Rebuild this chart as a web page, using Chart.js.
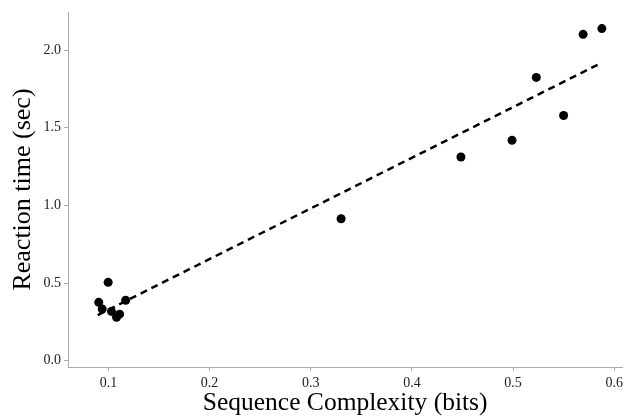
<!DOCTYPE html>
<html>
<head>
<meta charset="utf-8">
<script src="https://cdn.jsdelivr.net/npm/chart.js@4.4.1/dist/chart.umd.min.js"></script>
<style>
html,body{margin:0;padding:0;background:#fff;}
#wrap{width:627px;height:419px;position:relative;}
</style>
</head>
<body>
<div id="wrap"><canvas id="c" width="627" height="419"></canvas></div>
<script>
const complexity = [0.0904, 0.0938, 0.0997, 0.103, 0.108, 0.111, 0.117, 0.330, 0.4485, 0.499, 0.523, 0.550, 0.5693, 0.5878];
const reactionTime = [0.376, 0.333, 0.505, 0.318, 0.280, 0.300, 0.390, 0.914, 1.312, 1.419, 1.824, 1.579, 2.101, 2.138];
const fitX = [0.0894, 0.585];
const fitY = [0.294, 1.910];
const xTicks = [0.1, 0.2, 0.3, 0.4, 0.5, 0.6];
const yTicks = [0.0, 0.5, 1.0, 1.5, 2.0];

const axisColor = '#aaaaaa';
const font = 'Liberation Serif';

new Chart(document.getElementById('c'), {
  type: 'scatter',
  data: {
    datasets: [
      {
        type: 'line',
        data: fitX.map((x, i) => ({x: x, y: fitY[i]})),
        borderColor: '#000',
        borderWidth: 2.5,
        borderDash: [7, 5],
        pointRadius: 0,
        fill: false,
        order: 2
      },
      {
        data: complexity.map((x, i) => ({x: x, y: reactionTime[i]})),
        backgroundColor: '#000',
        borderColor: '#000',
        pointRadius: 4.5,
        pointBorderWidth: 0,
        order: 1
      }
    ]
  },
  options: {
    responsive: false,
    animation: false,
    layout: {padding: {top: 12, right: 0, left: 0, bottom: 0}},
    plugins: {legend: {display: false}, tooltip: {enabled: false}},
    scales: {
      x: {
        type: 'linear',
        min: 0.06, max: 0.608,
        afterFit: s => { s.height = 52; },
        afterBuildTicks: s => { s.ticks = xTicks.map(v => ({value: v})); },
        grid: {display: true, drawOnChartArea: false, drawTicks: true, tickLength: 4, color: axisColor, lineWidth: 1},
        border: {display: true, color: axisColor, width: 1},
        ticks: {
          color: '#222', font: {family: font, size: 14}, padding: 4,
          maxRotation: 0, autoSkip: false,
          callback: v => v.toFixed(1)
        },
        title: {display: true, text: 'Sequence Complexity (bits)', color: '#000', font: {family: font, size: 25.5}, padding: {top: 4, bottom: 0}}
      },
      y: {
        type: 'linear',
        min: -0.04, max: 2.245,
        afterFit: s => { s.width = 68; },
        afterBuildTicks: s => { s.ticks = yTicks.map(v => ({value: v})); },
        grid: {display: true, drawOnChartArea: false, drawTicks: true, tickLength: 4, color: axisColor, lineWidth: 1},
        border: {display: true, color: axisColor, width: 1},
        ticks: {
          color: '#222', font: {family: font, size: 14}, padding: 3,
          autoSkip: false,
          callback: v => v.toFixed(1)
        },
        title: {display: true, text: 'Reaction time (sec)', color: '#000', font: {family: font, size: 26}, padding: {top: 8, bottom: 0}}
      }
    }
  }
});
</script>
</body>
</html>
